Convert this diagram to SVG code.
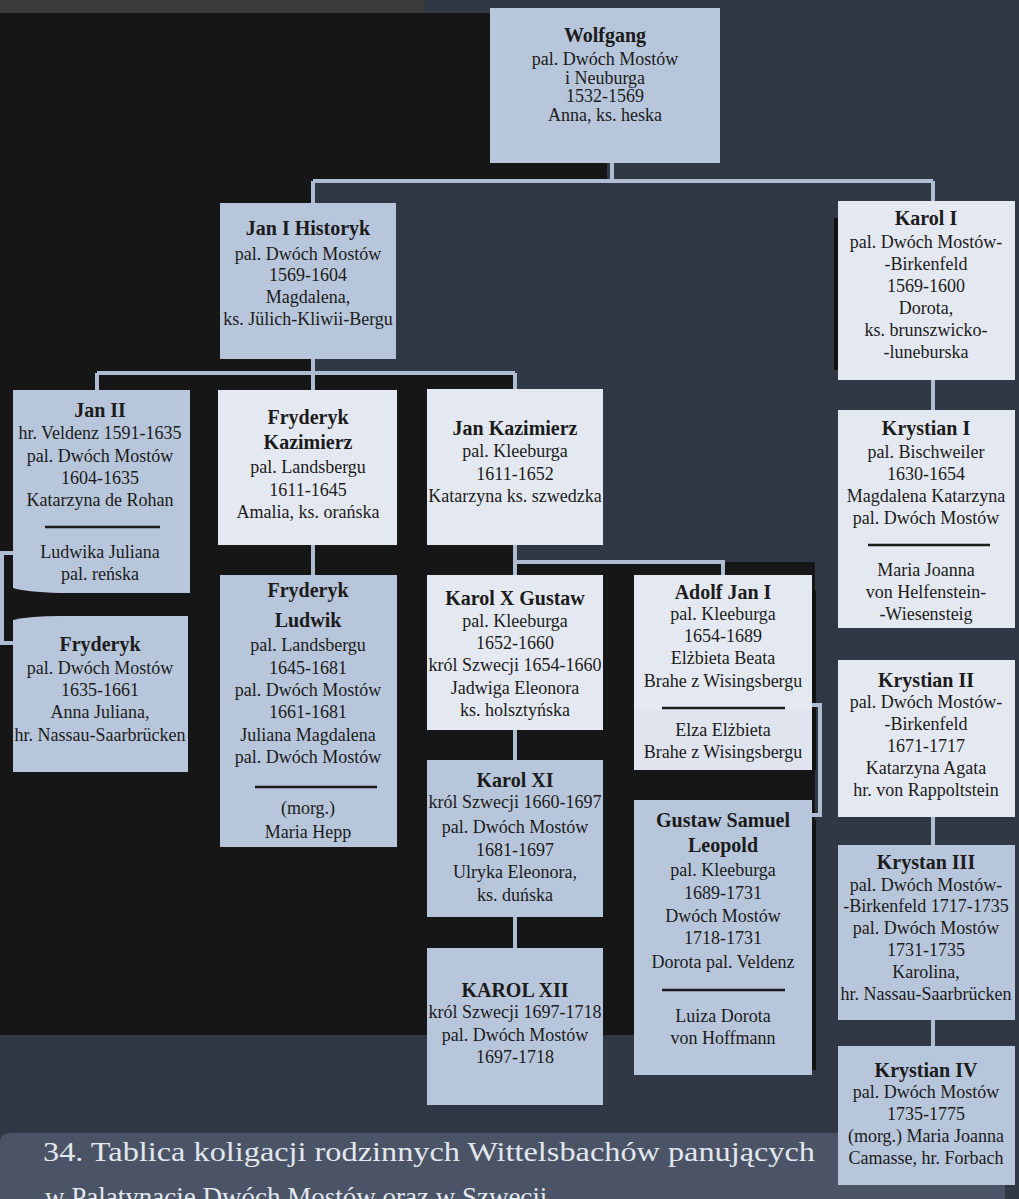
<svg xmlns="http://www.w3.org/2000/svg" width="1019" height="1199" viewBox="0 0 1019 1199">
<defs>
<style>
.bb{fill:#b7c6da}
.bl{fill:#e4e8f0}
.t{font-family:"Liberation Serif","Times New Roman",serif;font-size:18px;fill:#1b1b1b;text-anchor:middle}
.b{font-family:"Liberation Serif","Times New Roman",serif;font-size:20px;font-weight:bold;fill:#1b1b1b;text-anchor:middle}
.dv{stroke:#1b1b1b;stroke-width:2.5}
.cn{fill:none;stroke:#aebdd1;stroke-width:4}
.sh{fill:#111}
.cap{font-family:"Liberation Serif","Times New Roman",serif;font-size:27px;fill:#e3e7ee}
</style>
</defs>
<rect width="1019" height="1199" fill="#303745"/>
<rect x="0" y="0" width="425" height="13" fill="#3b3b3b"/>
<polygon points="0,13 490,13 490,163 607,163 607,181 313,181 313,373 515,373 515,562 815,562 815,1035 0,1035" fill="#161616"/>
<path d="M0,1142 Q0,1133 12,1133 H1005 V1199 H0 Z" fill="#4a5466"/>
<text class="cap" x="43" y="1161" textLength="772" lengthAdjust="spacingAndGlyphs">34. Tablica koligacji rodzinnych Wittelsbachów panujących</text>
<text class="cap" x="45" y="1206">w Palatynacie Dwóch Mostów oraz w Szwecji</text>
<g id="shadows">
<rect class="sh" x="834" y="218" width="4" height="152"/>
<rect class="sh" x="812" y="590" width="4" height="180"/>
<rect class="sh" x="812" y="820" width="4" height="250"/>
</g>
<g id="connectors">
<path class="cn" d="M612,163 V181 M313,181 H933 M313,181 V203 M933,181 V201"/>
<path class="cn" d="M313,359 V373 M97,373 H515 M97,373 V390 M313,373 V390 M515,373 V389"/>
<path class="cn" d="M313,545 V575"/>
<path class="cn" d="M13,553 H2 V643 H13"/>
<path class="cn" d="M515,545 V575 M515,562 H723 V575"/>
<path class="cn" d="M515,730 V760 M515,917 V948"/>
<path class="cn" d="M812,705 H820 V815 H812"/>
<path class="cn" d="M933,380 V410"/>
<path class="cn" d="M933,817 V845 M933,1020 V1046"/>
</g>
<g id="wolfgang">
<rect class="bb" x="490" y="8" width="230" height="155"/>
<text class="b" x="605" y="42">Wolfgang</text>
<text class="t" x="605" y="65">pal. Dwóch Mostów</text>
<text class="t" x="605" y="84">i Neuburga</text>
<text class="t" x="605" y="102">1532-1569</text>
<text class="t" x="605" y="121">Anna, ks. heska</text>
</g>
<g id="jan1">
<rect class="bb" x="220" y="203" width="176" height="156"/>
<text class="b" x="308" y="235">Jan I Historyk</text>
<text class="t" x="308" y="260">pal. Dwóch Mostów</text>
<text class="t" x="308" y="281">1569-1604</text>
<text class="t" x="308" y="303">Magdalena,</text>
<text class="t" x="308" y="325">ks. Jülich-Kliwii-Bergu</text>
</g>
<g id="karol1">
<rect class="bl" x="838" y="201" width="177" height="179"/>
<text class="b" x="926" y="225">Karol I</text>
<text class="t" x="926" y="248">pal. Dwóch Mostów-</text>
<text class="t" x="926" y="270">-Birkenfeld</text>
<text class="t" x="926" y="292">1569-1600</text>
<text class="t" x="926" y="314">Dorota,</text>
<text class="t" x="926" y="336">ks. brunszwicko-</text>
<text class="t" x="926" y="358">-luneburska</text>
</g>
<g id="jan2">
<path class="bb" d="M13,390 H190 V593 H60 Q25,592 13,588 Z"/>
<text class="b" x="100" y="417">Jan II</text>
<text class="t" x="100" y="439">hr. Veldenz 1591-1635</text>
<text class="t" x="100" y="462">pal. Dwóch Mostów</text>
<text class="t" x="100" y="484">1604-1635</text>
<text class="t" x="100" y="506">Katarzyna de Rohan</text>
<line class="dv" x1="45" y1="527" x2="160" y2="527"/>
<text class="t" x="100" y="558">Ludwika Juliana</text>
<text class="t" x="100" y="580">pal. reńska</text>
</g>
<g id="fryderyk-kazimierz">
<rect class="bl" x="218" y="390" width="179" height="155"/>
<text class="b" x="308" y="424">Fryderyk</text>
<text class="b" x="308" y="449">Kazimierz</text>
<text class="t" x="308" y="473">pal. Landsbergu</text>
<text class="t" x="308" y="496">1611-1645</text>
<text class="t" x="308" y="518">Amalia, ks. orańska</text>
</g>
<g id="jan-kazimierz">
<rect class="bl" x="427" y="389" width="176" height="156"/>
<text class="b" x="515" y="435">Jan Kazimierz</text>
<text class="t" x="515" y="457">pal. Kleeburga</text>
<text class="t" x="515" y="480">1611-1652</text>
<text class="t" x="515" y="502">Katarzyna ks. szwedzka</text>
</g>
<g id="fryderyk-ludwik">
<rect class="bb" x="220" y="575" width="177" height="272"/>
<text class="b" x="308" y="597">Fryderyk</text>
<text class="b" x="308" y="627">Ludwik</text>
<text class="t" x="308" y="651">pal. Landsbergu</text>
<text class="t" x="308" y="674">1645-1681</text>
<text class="t" x="308" y="696">pal. Dwóch Mostów</text>
<text class="t" x="308" y="718">1661-1681</text>
<text class="t" x="308" y="741">Juliana Magdalena</text>
<text class="t" x="308" y="763">pal. Dwóch Mostów</text>
<line class="dv" x1="255" y1="787" x2="377" y2="787"/>
<text class="t" x="308" y="814">(morg.)</text>
<text class="t" x="308" y="838">Maria Hepp</text>
</g>
<g id="fryderyk">
<path class="bb" d="M13,620 Q30,616 60,616 H188 V772 H13 Z"/>
<text class="b" x="100" y="651">Fryderyk</text>
<text class="t" x="100" y="674">pal. Dwóch Mostów</text>
<text class="t" x="100" y="696">1635-1661</text>
<text class="t" x="100" y="718">Anna Juliana,</text>
<text class="t" x="100" y="741">hr. Nassau-Saarbrücken</text>
</g>
<g id="karol10">
<rect class="bl" x="427" y="575" width="176" height="155"/>
<text class="b" x="515" y="605">Karol X Gustaw</text>
<text class="t" x="515" y="627">pal. Kleeburga</text>
<text class="t" x="515" y="649">1652-1660</text>
<text class="t" x="515" y="671">król Szwecji 1654-1660</text>
<text class="t" x="515" y="694">Jadwiga Eleonora</text>
<text class="t" x="515" y="716">ks. holsztyńska</text>
</g>
<g id="adolf">
<rect class="bl" x="634" y="575" width="178" height="195"/>
<rect x="634" y="710" width="178" height="60" fill="#dfe4ee"/>
<text class="b" x="723" y="599">Adolf Jan I</text>
<text class="t" x="723" y="620">pal. Kleeburga</text>
<text class="t" x="723" y="642">1654-1689</text>
<text class="t" x="723" y="664">Elżbieta Beata</text>
<text class="t" x="723" y="687">Brahe z Wisingsbergu</text>
<line class="dv" x1="662" y1="708" x2="785" y2="708"/>
<text class="t" x="723" y="736">Elza Elżbieta</text>
<text class="t" x="723" y="758">Brahe z Wisingsbergu</text>
</g>
<g id="karol11">
<rect class="bb" x="427" y="760" width="176" height="157"/>
<text class="b" x="515" y="787">Karol XI</text>
<text class="t" x="515" y="808">król Szwecji 1660-1697</text>
<text class="t" x="515" y="833">pal. Dwóch Mostów</text>
<text class="t" x="515" y="856">1681-1697</text>
<text class="t" x="515" y="878">Ulryka Eleonora,</text>
<text class="t" x="515" y="901">ks. duńska</text>
</g>
<g id="karol12">
<rect class="bb" x="427" y="948" width="176" height="157"/>
<text class="b" x="515" y="997">KAROL XII</text>
<text class="t" x="515" y="1018">król Szwecji 1697-1718</text>
<text class="t" x="515" y="1041">pal. Dwóch Mostów</text>
<text class="t" x="515" y="1063">1697-1718</text>
</g>
<g id="gustaw">
<rect class="bb" x="634" y="800" width="178" height="275"/>
<text class="b" x="723" y="827">Gustaw Samuel</text>
<text class="b" x="723" y="852">Leopold</text>
<text class="t" x="723" y="876">pal. Kleeburga</text>
<text class="t" x="723" y="899">1689-1731</text>
<text class="t" x="723" y="922">Dwóch Mostów</text>
<text class="t" x="723" y="944">1718-1731</text>
<text class="t" x="723" y="968">Dorota pal. Veldenz</text>
<line class="dv" x1="662" y1="990" x2="785" y2="990"/>
<text class="t" x="723" y="1022">Luiza Dorota</text>
<text class="t" x="723" y="1044">von Hoffmann</text>
</g>
<g id="krystian1">
<rect class="bl" x="838" y="410" width="177" height="218"/>
<text class="b" x="926" y="435">Krystian I</text>
<text class="t" x="926" y="458">pal. Bischweiler</text>
<text class="t" x="926" y="480">1630-1654</text>
<text class="t" x="926" y="502">Magdalena Katarzyna</text>
<text class="t" x="926" y="524">pal. Dwóch Mostów</text>
<line class="dv" x1="868" y1="545" x2="990" y2="545"/>
<text class="t" x="926" y="576">Maria Joanna</text>
<text class="t" x="926" y="598">von Helfenstein-</text>
<text class="t" x="926" y="620">-Wiesensteig</text>
</g>
<g id="krystian2">
<rect class="bl" x="838" y="660" width="177" height="157"/>
<text class="b" x="926" y="687">Krystian II</text>
<text class="t" x="926" y="708">pal. Dwóch Mostów-</text>
<text class="t" x="926" y="730">-Birkenfeld</text>
<text class="t" x="926" y="752">1671-1717</text>
<text class="t" x="926" y="774">Katarzyna Agata</text>
<text class="t" x="926" y="796">hr. von Rappoltstein</text>
</g>
<g id="krystian3">
<rect class="bb" x="838" y="845" width="177" height="175"/>
<text class="b" x="926" y="869">Krystan III</text>
<text class="t" x="926" y="891">pal. Dwóch Mostów-</text>
<text class="t" x="926" y="912">-Birkenfeld 1717-1735</text>
<text class="t" x="926" y="934">pal. Dwóch Mostów</text>
<text class="t" x="926" y="956">1731-1735</text>
<text class="t" x="926" y="978">Karolina,</text>
<text class="t" x="926" y="1000">hr. Nassau-Saarbrücken</text>
</g>
<g id="krystian4">
<rect class="bb" x="838" y="1046" width="177" height="139"/>
<text class="b" x="926" y="1077">Krystian IV</text>
<text class="t" x="926" y="1098">pal. Dwóch Mostów</text>
<text class="t" x="926" y="1120">1735-1775</text>
<text class="t" x="926" y="1142">(morg.) Maria Joanna</text>
<text class="t" x="926" y="1164">Camasse, hr. Forbach</text>
</g>
</svg>
